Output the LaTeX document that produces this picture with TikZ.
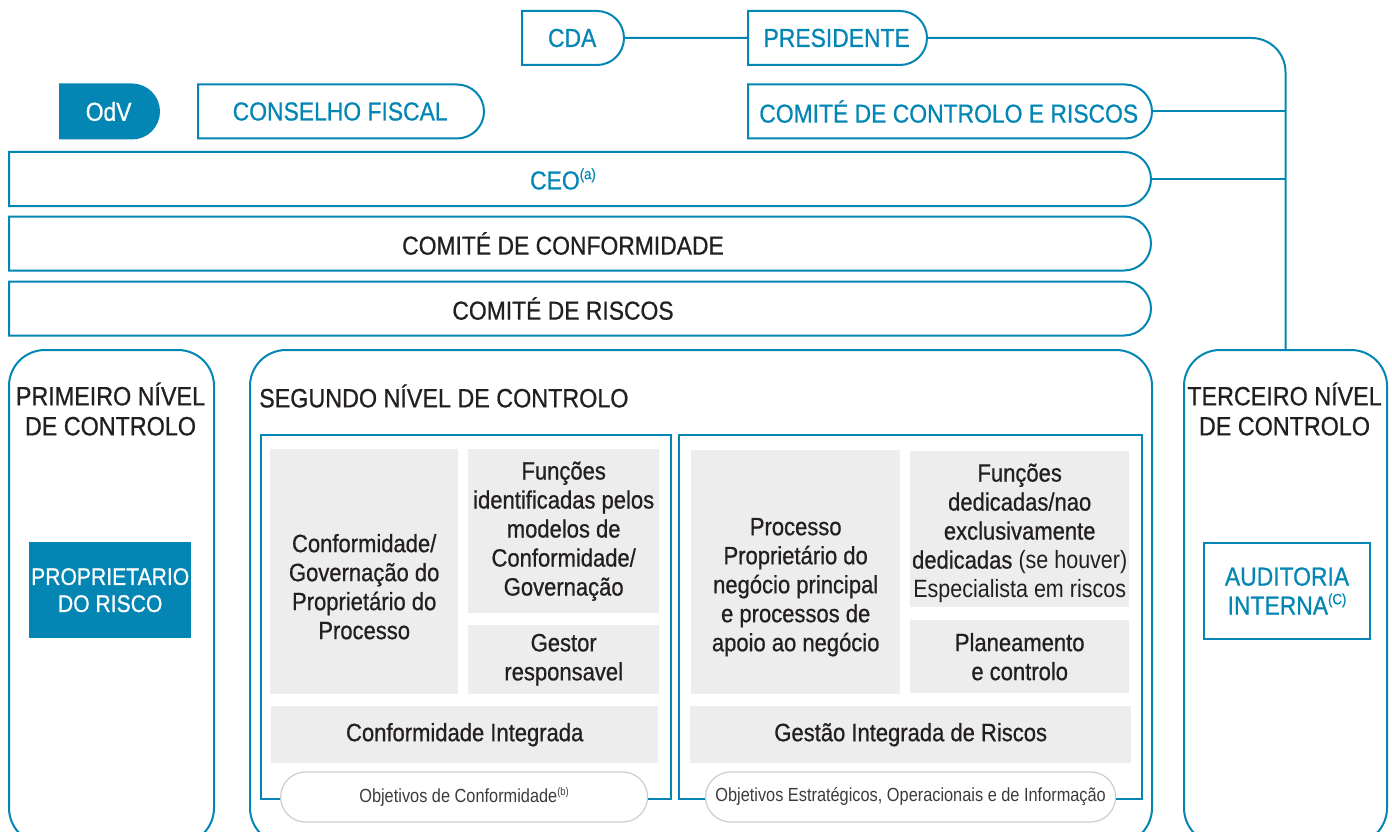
\documentclass[tikz,border=0pt]{standalone}
\usepackage{fontspec}
\setmainfont[FakeStretch=0.88, FakeBold=0.7]{Liberation Sans}
\newfontfamily\lightfont[FakeStretch=0.86]{Liberation Sans}
\usetikzlibrary{shapes.misc,positioning}

\definecolor{cblue}{RGB}{4,134,180}
\definecolor{cgrey}{RGB}{237,237,237}
\definecolor{ctext}{RGB}{35,31,32}
\definecolor{clight}{RGB}{60,60,60}
\definecolor{cpill}{RGB}{205,205,205}

\newcommand{\supnote}[2][15]{\raisebox{0.75ex}{\fontsize{#1}{#1}\selectfont #2}}

\tikzset{
    bline/.style={draw=cblue, line width=2pt},
    topbox/.style={bline, rounded rectangle, rounded rectangle left arc=none,
        minimum height=54pt, inner sep=0pt, anchor=west,
        font=\fontsize{26}{30}\selectfont, text=cblue},
    bar/.style={topbox, minimum width=1142pt},
    bartext/.style={inner sep=0pt, font=\fontsize{26}{30}\selectfont, text=ctext},
    level/.style={bline, rounded corners=36pt, minimum height=494pt,
        anchor=north west, inner sep=0pt},
    title/.style={font=\fontsize{26.5}{30}\selectfont, text=ctext, align=center, inner sep=0pt},
    frame/.style={bline, minimum height=364pt, anchor=north west, inner sep=0pt},
    greybox/.style={fill=cgrey, anchor=north west, inner sep=0pt, align=center,
        font=\fontsize{25}{29}\selectfont, text=ctext},
    boxtext/.style={inner sep=0pt, align=center, font=\fontsize{25}{29}\selectfont, text=ctext},
    goal/.style={draw=cpill, line width=1.2pt, fill=white, rounded rectangle,
        minimum height=50pt, inner sep=0pt, anchor=west,
        font=\lightfont\fontsize{19}{21}\selectfont, text=clight},
    owner/.style={minimum width=162pt, minimum height=96pt, anchor=north west,
        inner sep=0pt, align=center, font=\fontsize{24}{27}\selectfont}
}

\begin{document}
\begin{tikzpicture}[x=1pt, y=-1pt]
    \useasboundingbox (0,0) rectangle (1392,832);
    \clip (0,0) rectangle (1392,832);

    % top row
    \node[topbox, minimum width=102pt] (cda) at (521,38) {CDA};
    \node[topbox, minimum width=179pt] (pres) at (747,38) {PRESIDENTE};
    \node[topbox, minimum width=99pt, fill=cblue, text=white] (odv) at (59,111.5) {OdV};
    \node[topbox, minimum width=286pt] (fiscal) at (197,111.5) {CONSELHO FISCAL};
    \node[topbox, minimum width=404pt] (ccr) at (747,111.5) {COMITÉ DE CONTROLO E RISCOS};

    % bars
    \node[bar] (ceo) at (8,179) {};
    \node[bar] (conf) at (8,243.5) {};
    \node[bar] (risk) at (8,308.5) {};
    \node[bartext, text=cblue] (ceotext) at ([xshift=-17pt]ceo.center) {CEO\supnote{(a)}};
    \node[bartext] (conftext) at ([xshift=-17pt]conf.center) {COMITÉ DE CONFORMIDADE};
    \node[bartext] (risktext) at ([xshift=-17pt]risk.center) {COMITÉ DE RISCOS};

    % three levels
    \node[level, minimum width=205pt] (lvl1) at (8,349) {};
    \node[level, minimum width=902pt] (lvl2) at (249,349) {};
    \node[level, minimum width=203pt] (lvl3) at (1183,349) {};

    \node[title] (title1) at (110.5,409) {PRIMEIRO NÍVEL\\DE CONTROLO};
    \node[title, anchor=west] (title2) at (259,396) {SEGUNDO NÍVEL DE CONTROLO};
    \node[title] (title3) at (1284.5,409) {TERCEIRO NÍVEL\\DE CONTROLO};

    \node[owner, fill=cblue, text=white] (riskowner) at (29,542) {PROPRIETARIO\\DO RISCO};
    \node[owner, bline, fill=white, text=cblue, minimum width=166pt,
        font=\fontsize{26}{29}\selectfont] (audit) at (1203,542) {AUDITORIA\\INTERNA\supnote{(C)}};

    % second level, compliance side
    \node[frame, minimum width=410pt] (frameL) at (260,434) {};
    \node[greybox, minimum width=188pt, minimum height=245pt] (ownerproc) at (270,449) {};
    \node[boxtext] (ownerproctext) at ([yshift=-15pt]ownerproc.center)
        {Conformidade/\\Governação do\\Proprietário do\\Processo};
    \node[greybox, minimum width=191pt, minimum height=164pt] (functions) at (468,449)
        {Funções\\identificadas pelos\\modelos de\\Conformidade/\\Governação};
    \node[greybox, minimum width=191pt, minimum height=69pt] (manager) at (468,625)
        {Gestor\\responsavel};
    \node[greybox, minimum width=387pt, minimum height=57pt] (intconf) at (271,706)
        {Conformidade Integrada};
    \node[goal, minimum width=367pt] (goalL) at (280,797) {Objetivos de Conformidade\supnote[11]{(b)}};

    % second level, risk side
    \node[frame, minimum width=463pt] (frameR) at (678,434) {};
    \node[greybox, minimum width=209pt, minimum height=244pt] (process) at (691,450) {};
    \node[boxtext] (processtext) at ([yshift=-15pt]process.center)
        {Processo\\Proprietário do\\negócio principal\\e processos de\\apoio ao negócio};
    \node[greybox, minimum width=219pt, minimum height=156pt] (dedicated) at (910,451) {};
    \node[boxtext] (dedicatedtext) at ([yshift=-4pt]dedicated.center)
        {Funções\\dedicadas/nao\\exclusivamente\\dedicadas {\lightfont(se houver)}\\{\lightfont Especialista em riscos}};
    \node[greybox, minimum width=219pt, minimum height=73pt] (planning) at (910,620)
        {Planeamento\\e controlo};
    \node[greybox, minimum width=441pt, minimum height=57pt] (intrisk) at (690,706)
        {Gestão Integrada de Riscos};
    \node[goal, minimum width=410pt] (goalR) at (705,797)
        {Objetivos Estratégicos, Operacionais e de Informação};

    % connectors
    \draw[bline] (cda) -- (pres);
    \draw[bline, rounded corners=34pt] (pres.east) -| (lvl3.north);
    \draw[bline] (ccr.east) -- (ccr.east -| lvl3.north);
    \draw[bline] (ceo.east) -- (ceo.east -| lvl3.north);
\end{tikzpicture}
\end{document}
